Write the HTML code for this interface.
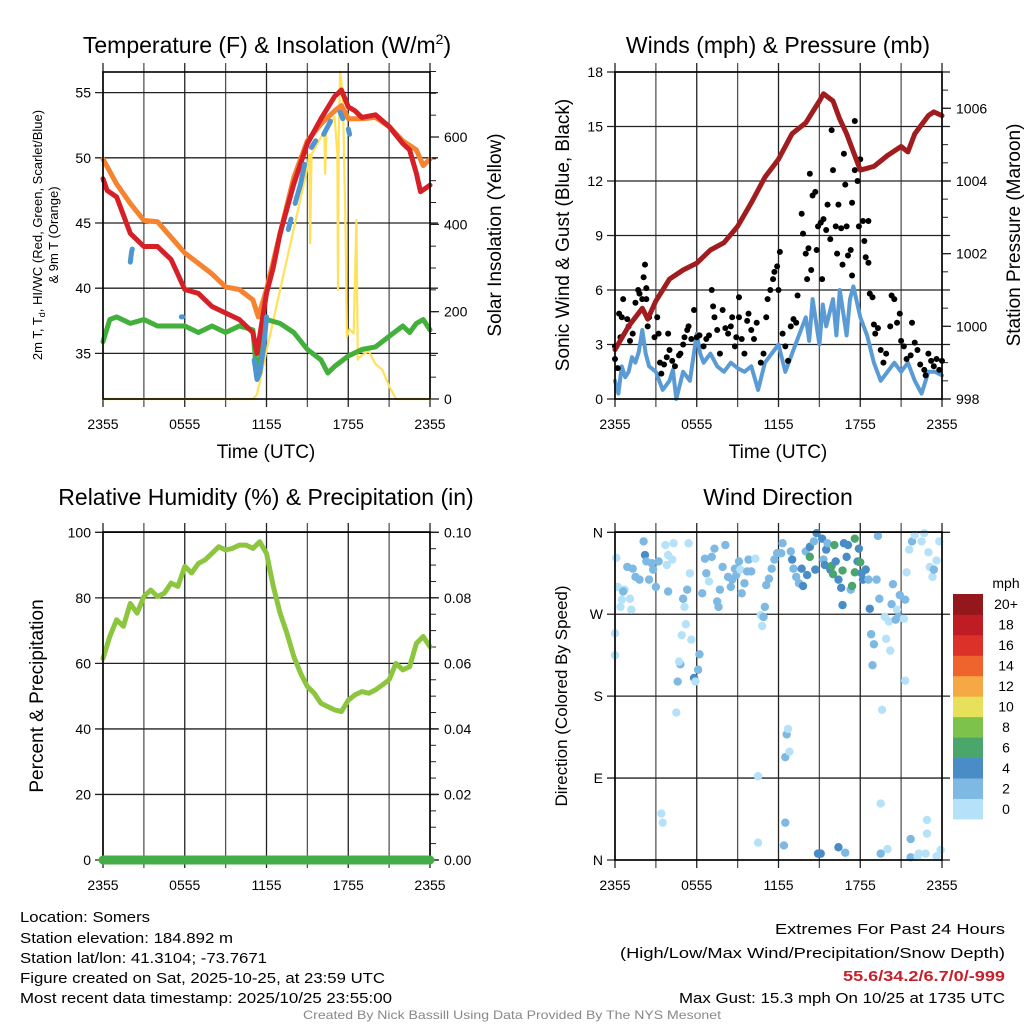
<!DOCTYPE html>
<html><head><meta charset="utf-8"><style>
html,body{margin:0;padding:0;background:#fff;}
svg{display:block;font-family:"Liberation Sans",Arial,sans-serif;}
</style></head><body>
<svg id="chart" width="1024" height="1024" viewBox="0 0 1024 1024" xmlns="http://www.w3.org/2000/svg">
<rect x="0" y="0" width="1024" height="1024" fill="#fff"/>
<text x="267" y="53" font-size="23" text-anchor="middle">Temperature (F) &amp; Insolation (W/m<tspan font-size="14" dy="-9">2</tspan><tspan dy="9">)</tspan></text>
<text x="778" y="53" font-size="23" text-anchor="middle">Winds (mph) &amp; Pressure (mb)</text>
<text x="266" y="505" font-size="23" text-anchor="middle">Relative Humidity (%) &amp; Precipitation (in)</text>
<text x="778" y="505" font-size="23" text-anchor="middle">Wind Direction</text>
<text x="266" y="458" font-size="19" text-anchor="middle">Time (UTC)</text>
<text x="778" y="458" font-size="19" text-anchor="middle">Time (UTC)</text>
<text transform="translate(42,235) rotate(-90)" font-size="13" text-anchor="middle">2m T, T<tspan font-size="9" dy="3">d</tspan><tspan dy="-3">, HI/WC (Red, Green, Scarlet/Blue)</tspan></text>
<text transform="translate(58,235) rotate(-90)" font-size="13" text-anchor="middle">&amp; 9m T (Orange)</text>
<text transform="translate(501,235) rotate(-90)" font-size="19" text-anchor="middle">Solar Insolation (Yellow)</text>
<text transform="translate(569,235) rotate(-90)" font-size="19" text-anchor="middle">Sonic Wind &amp; Gust (Blue, Black)</text>
<text transform="translate(1020,235) rotate(-90)" font-size="19" text-anchor="middle">Station Pressure (Maroon)</text>
<text transform="translate(43,696) rotate(-90)" font-size="19" text-anchor="middle">Percent &amp; Precipitation</text>
<text transform="translate(567,696) rotate(-90)" font-size="17" text-anchor="middle">Direction (Colored By Speed)</text>
<g font-size="14.5" fill="#000">
<text x="20" y="922" textLength="130" lengthAdjust="spacingAndGlyphs">Location: Somers</text>
<text x="20" y="943" textLength="213" lengthAdjust="spacingAndGlyphs">Station elevation: 184.892 m</text>
<text x="20" y="963" textLength="247" lengthAdjust="spacingAndGlyphs">Station lat/lon: 41.3104; -73.7671</text>
<text x="20" y="983" textLength="365" lengthAdjust="spacingAndGlyphs">Figure created on Sat, 2025-10-25, at 23:59 UTC</text>
<text x="20" y="1003" textLength="372" lengthAdjust="spacingAndGlyphs">Most recent data timestamp: 2025/10/25 23:55:00</text>
<text x="1005" y="934" text-anchor="end" textLength="230" lengthAdjust="spacingAndGlyphs">Extremes For Past 24 Hours</text>
<text x="1005" y="958" text-anchor="end" textLength="385" lengthAdjust="spacingAndGlyphs">(High/Low/Max Wind/Precipitation/Snow Depth)</text>
<text x="1005" y="981" text-anchor="end" fill="#c8202a" font-weight="bold" textLength="162" lengthAdjust="spacingAndGlyphs">55.6/34.2/6.7/0/-999</text>
<text x="1005" y="1003" text-anchor="end" textLength="326" lengthAdjust="spacingAndGlyphs">Max Gust: 15.3 mph On 10/25 at 1735 UTC</text>
</g>
<text x="512" y="1019" font-size="12" fill="#888" text-anchor="middle" textLength="418" lengthAdjust="spacingAndGlyphs">Created By Nick Bassill Using Data Provided By The NYS Mesonet</text>
<g id="plots"></g>
</svg>
<script>
// ---------- data ----------
const timeTickLabels = ["2355","0555","1155","1755","2355"];
const tempTicks = [35,40,45,50,55];
const solarTicks = [0,200,400,600];
const windTicks = [0,3,6,9,12,15,18];
const pressureTicks = [998,1000,1002,1004,1006];
const rhTicks = [0,20,40,60,80,100];
const precipTicks = ["0.00","0.02","0.04","0.06","0.08","0.10"];
const dirTickLabels = ["N","E","S","W","N"];
const speedBinLabels = ["0","2","4","6","8","10","12","14","16","18","20+"];
const speedBinColors = ["#b5e2f8","#7db9e3","#4a8dc6","#4ba66c","#7dc24a","#e6e05a","#f6a844","#ef632c","#dc3128","#bf1c24","#93171b"];

const tempTimes = [0,0.3,1,2,3,4,5,6,7,8,9,10,11,11.3,12,12.5,13,14,15,16,17,17.5,18,18.5,19,20,21,22,22.5,23,23.3,24];
const tempValues = [48.4,47.5,47.0,44.2,43.2,43.2,42.2,39.9,39.6,38.6,38.1,37.6,36.6,35.0,39.6,41.6,44.2,48.0,51.1,53.0,54.7,55.2,53.9,53.6,53.1,53.3,52.4,51.1,50.6,48.8,47.4,47.9];
const temp9mTimes = [0,1,2,3,4,5,6,7,8,9,10,11,11.4,12,13,14,15,16,17,17.5,18,19,20,21,22,23,23.5,24];
const temp9mValues = [49.9,48.0,46.5,45.2,45.1,43.9,42.7,41.9,41.1,40.1,39.9,39.1,37.8,39.9,44.2,48.5,51.3,52.6,53.6,54.0,53.0,53.0,53.1,52.4,51.3,50.6,49.4,49.9];
const dewTimes = [0,0.5,1,2,3,4,5,6,7,8,9,10,11,11.3,11.6,12,13,14,15,16,16.5,17,18,19,20,21,22,22.5,23,23.5,24];
const dewValues = [35.9,37.6,37.8,37.3,37.6,37.1,37.1,37.1,36.6,37.1,36.6,37.1,36.8,33.2,35.0,37.6,37.3,36.6,35.3,34.5,33.5,34.0,34.8,35.3,35.5,36.3,37.1,36.6,37.3,37.6,36.8];
const hiwcTimes = [2.0,2.1,2.15,null,5.75,5.85,null,11.1,11.3,11.5,11.8,12.0,null,13.6,13.8,null,14.1,14.5,14.8,null,15.3,15.6,null,16.2,16.7,null,17.4,17.6,null,18.0,18.1];
const hiwcValues = [42.0,42.8,43.0,null,37.8,37.8,null,34.5,33.0,33.5,35.5,37.8,null,44.5,45.3,null,46.5,48.0,49.5,null,50.8,51.3,null,51.8,52.8,null,53.5,53.0,null,52.2,51.8];
const solarTimes = [0,11.0,11.3,12,13,14,15,15.15,15.2,15.3,16,16.25,16.3,16.4,17,17.2,17.25,17.3,17.4,17.6,17.8,17.9,18.1,18.4,18.6,18.7,18.8,19.0,19.5,20,20.5,21,21.5,24];
const solarValues = [0,0,10,110,250,390,530,560,357,560,600,610,516,620,646,560,250,600,750,700,395,143,160,150,410,90,95,100,109,80,67,30,0,0];
const windTimes = [0,0.25,0.5,0.75,1,1.25,1.5,1.75,2,2.25,2.5,3,3.5,4,4.25,4.5,5,5.5,6,6.25,6.5,7,7.5,8,8.5,9,9.5,10,10.5,11,11.5,12,12.5,13,13.5,14,14.25,14.5,15,15.25,15.5,16,16.25,16.5,17,17.25,17.5,18,18.5,19,19.5,20,20.5,21,21.5,22,22.5,23,23.5,24];
const windValues = [1.0,0.3,1.8,1.2,1.5,2.3,2.0,2.6,3.8,2.5,1.8,1.5,0.5,1.0,1.6,0.0,1.5,1.0,3.6,2.5,2.0,2.5,1.8,1.5,2.0,1.7,1.5,1.8,0.5,2.0,2.5,3.0,1.5,2.5,3.5,4.5,3.2,5.5,3.0,5.2,4.0,5.5,3.5,6.0,3.5,5.5,6.2,4.5,3.5,2.0,1.0,1.5,2.0,1.5,2.0,1.0,0.3,1.5,1.5,1.3];
const pressureTimes = [0,1,2,2.4,3,4,5,6,7,8,9,10,11,12,13,14,15,15.3,16,16.5,17,17.5,18,18.5,19,20,21,21.5,22,23,23.4,24];
const pressureValues = [999.36,1000.0,1000.5,1000.2,1000.7,1001.3,1001.55,1001.74,1002.1,1002.3,1002.75,1003.4,1004.1,1004.6,1005.3,1005.6,1006.2,1006.4,1006.2,1005.7,1005.3,1004.8,1004.3,1004.35,1004.4,1004.7,1004.95,1004.8,1005.3,1005.8,1005.9,1005.8];
const gustTimes = [0,0,0.2,0.3,0.5,0.6,0.4,0.9,1.0,1.1,1.3,1.5,1.7,1.8,2.0,2.1,2.2,2.3,2.3,2.4,2.5,2.9,3.1,3.2,3.3,3.4,3.6,3.8,3.9,4.0,4.2,4.4,4.7,4.8,5.0,5.1,5.3,5.4,5.6,5.8,6.0,6.2,6.5,6.7,6.9,7.1,7.2,7.3,7.5,7.7,7.9,8.1,8.3,8.5,8.6,8.8,8.9,9.1,9.1,9.3,9.5,9.7,9.8,10.0,10.2,10.4,10.7,10.9,11.1,11.2,11.4,11.6,11.7,11.9,12.0,12.1,12.3,12.5,12.7,12.9,13.1,13.3,13.4,13.7,13.8,14.0,14.1,14.2,14.3,14.4,14.5,14.7,14.8,14.9,15.1,15.2,15.3,15.5,15.6,15.8,15.9,16.0,16.2,16.3,16.4,16.6,16.7,16.8,16.9,17.0,17.1,17.3,17.4,17.4,17.6,17.6,17.8,17.9,18.0,18.2,18.3,18.4,18.6,18.6,18.7,18.9,19.0,19.1,19.3,19.5,19.7,19.9,20.2,20.3,20.5,20.7,20.9,21.0,21.2,21.4,21.7,21.8,22.0,22.2,22.4,22.7,22.8,23.0,23.2,23.4,23.6,23.8,24.0];
const gustValues = [2.2,2.9,1.7,4.7,4.5,5.5,3.4,4.4,4.0,3.2,3.6,5.3,6.0,5.8,5.5,6.7,7.4,5.5,6.1,4.0,4.5,3.4,4.5,3.6,2.0,1.4,1.9,2.3,3.6,2.7,2.1,1.8,2.4,2.5,3.0,3.4,3.8,4.0,3.3,4.9,3.4,3.5,2.9,3.3,3.5,6.0,5.1,4.5,3.8,2.5,4.9,3.9,3.6,4.0,4.5,2.9,3.4,4.5,5.6,3.3,2.5,4.3,4.7,3.8,3.3,4.2,2.0,2.5,4.5,5.5,6.0,6.6,7.0,7.3,6.0,8.1,3.6,2.9,2.1,4.0,4.4,4.2,5.7,10.2,9.1,8.0,6.6,8.3,12.4,7.1,11.2,11.4,8.2,9.5,9.7,6.6,9.9,9.3,10.7,8.8,14.8,12.6,9.5,8.0,10.7,9.4,7.4,13.5,11.8,9.5,7.9,8.2,6.8,10.8,12.6,15.3,12.0,9.5,13.2,9.8,8.7,7.8,9.8,7.5,5.8,5.6,4.1,3.6,3.9,2.7,2.0,2.5,4.0,5.7,5.5,4.2,4.7,3.2,2.9,2.2,2.4,4.2,3.1,2.7,1.9,1.6,1.3,2.5,2.1,1.8,2.2,1.6,2.1];
const rhTimes = [0,0.5,1,1.5,2,2.5,3,3.5,4,4.5,5,5.5,6,6.5,7,7.5,8,8.5,9,9.5,10,10.5,11,11.5,12,12.5,13,13.5,14,14.5,15,15.5,16,16.5,17,17.5,18,18.5,19,19.5,20,20.5,21,21.5,22,22.5,23,23.5,24];
const rhValues = [61.5,68.2,73.3,71.3,78.3,75.3,80.4,82.4,80.4,81.4,84.5,83.5,89.6,87.6,90.5,91.6,93.6,95.6,94.6,95.1,96.1,96.1,95.1,97.1,93.6,83.5,75.3,69.2,62.1,57.0,52.9,50.9,47.8,46.8,45.8,45.3,48.8,50.4,51.4,50.9,51.9,53.4,55.0,60.0,58.0,59.0,66.1,68.2,65.1];
const precipTimes = [0,24];
const precipValues = [0,0];
const dirTimes = [0.1,0,0,0.2,0.4,0.5,0.9,0.7,1.1,1.2,0.6,1.3,1.5,1.8,2.1,2.2,2.3,2.5,2.7,2.8,3.0,3.2,3.4,3.5,3.7,3.8,3.9,3.9,4.3,4.2,4.5,4.6,4.8,4.7,4.9,5.0,5.1,5.2,5.3,5.5,5.4,5.6,5.8,5.9,6.1,6.2,6.4,6.6,6.7,6.9,7.1,7.3,7.5,7.6,7.7,7.9,8.1,8.3,8.5,8.6,8.8,8.9,9.1,9.2,9.3,9.5,9.7,9.8,10.0,10.3,10.5,10.5,10.7,10.8,10.9,11.0,11.1,11.3,11.5,11.7,11.9,12.3,12.4,12.5,12.5,12.6,12.7,12.8,12.2,12.9,13.0,13.1,13.3,13.5,13.7,13.8,14.0,14.1,14.3,14.3,14.6,14.7,14.8,14.9,15.1,15.2,15.3,15.4,15.5,15.6,15.8,15.9,16.0,16.1,16.2,16.4,16.4,16.6,16.7,16.7,16.8,16.9,17.0,17.1,17.3,17.4,17.6,17.6,17.8,17.9,18.0,18.1,18.2,18.4,18.6,18.7,18.8,19.0,18.9,19.2,19.3,19.4,19.5,19.5,19.6,19.8,19.9,20.0,20.1,20.2,20.3,20.4,20.6,20.7,20.8,20.9,21.2,21.3,21.3,21.4,21.6,21.7,21.7,21.8,22.0,22.2,22.3,22.5,22.7,22.8,22.9,22.9,23.0,23.1,23.3,23.4,23.6,23.6,23.8,23.9];
const dirValues = [332,225,249,300,278,286,322,297,287,275,295,320,311,308,350,335,328,308,326,319,300,328,51,41,346,324,295,335,348,330,162,196,215,218,247,287,278,259,297,315,348,242,200,196,209,226,293,331,315,306,333,342,284,278,297,322,346,311,300,308,320,313,328,319,293,304,317,330,317,331,19,92,269,257,267,278,302,309,320,330,337,348,16,41,113,138,144,119,337,339,330,320,311,304,320,301,339,313,333,344,350,319,359,7,7,353,330,324,341,348,319,323,314,346,328,308,14,299,280,318,348,8,333,346,297,301,316,353,328,342,327,315,308,319,308,276,248,237,214,308,356,287,62,7,165,267,243,12,262,230,281,303,264,275,267,291,265,197,286,316,341,23,3,350,357,4,7,350,359,7,29,44,338,322,311,319,329,4,350,11];
const dirSpeeds = [1,1,1,1,1,1,3,1,1,1,3,3,3,3,3,5,3,3,3,3,3,3,1,1,1,1,3,1,1,1,1,3,3,1,1,3,1,1,3,1,1,1,5,1,3,3,3,3,3,1,3,3,3,3,3,3,3,3,3,3,3,3,3,1,3,3,3,3,3,1,1,1,1,1,3,3,3,3,3,3,3,3,3,3,3,3,1,1,3,3,5,3,3,3,5,5,3,5,7,5,3,5,5,5,5,5,3,5,5,3,5,7,7,7,5,5,5,5,5,7,5,3,5,5,3,7,7,7,5,5,7,5,5,5,3,5,3,3,3,3,3,3,1,3,1,1,1,1,1,1,3,3,3,1,3,3,1,1,3,1,1,3,3,3,1,1,1,1,1,1,1,1,1,1,1,3,1,1,1,1];

// ---------- helpers ----------
const NS = "http://www.w3.org/2000/svg";
const root = document.getElementById("plots");
function mk(tag, attrs, parent) {
  const e = document.createElementNS(NS, tag);
  for (const k in attrs) e.setAttribute(k, attrs[k]);
  (parent || root).appendChild(e);
  return e;
}
function pathFrom(times, vals, xf, yf) {
  let d = "", pen = false;
  for (let i = 0; i < times.length; i++) {
    if (times[i] === null || vals[i] === null) { pen = false; continue; }
    d += (pen ? "L" : "M") + xf(times[i]).toFixed(1) + "," + yf(vals[i]).toFixed(1);
    pen = true;
  }
  return d;
}
function makeX(L, R) { return t => L + t / 24 * (R - L); }
function linScale(v0, v1, p0, p1) { return v => p0 + (v - v0) / (v1 - v0) * (p1 - p0); }

function drawFrame(L, R, T, B, name, g) {
  const xf = makeX(L, R);
  for (let k = 0; k <= 8; k++) {
    const x = xf(k * 3);
    const ln = mk("line", {x1: x, x2: x, y1: T - 9, y2: B + 8, stroke: k % 2 ? "#555" : "#222", "stroke-width": 1.3}, g);
    
    
  }
  timeTickLabels.forEach((lab, i) => {
    const t = mk("text", {x: xf(i * 6), y: B + 30, "font-size": 14, "text-anchor": "middle"}, g);
    t.textContent = lab;
    
    
  });
  return xf;
}
function hGrid(L, R, ys, labels, g, name, side) {
  ys.forEach((y, i) => {
    const ln = mk("line", {x1: L - 8, x2: R + 8, y1: y, y2: y, stroke: "#222", "stroke-width": 1.3}, g);
    
    
    const t = mk("text", {x: side === "right" ? R + 14 : L - 12, y: y + 5, "font-size": 14, "text-anchor": side === "right" ? "start" : "end"}, g);
    t.textContent = labels[i];
    
    
  });
}
function rightTicks(R, ys, labels, minorYs, g, name) {
  minorYs.forEach(y => {
    const ln = mk("line", {x1: R, x2: R + 6, y1: y, y2: y, stroke: "#222", "stroke-width": 1}, g);
    
    
  });
  ys.forEach((y, i) => {
    const ln = mk("line", {x1: R, x2: R + 9, y1: y, y2: y, stroke: "#222", "stroke-width": 1.3}, g);
    
    
    const t = mk("text", {x: R + 14, y: y + 5, "font-size": 14}, g);
    t.textContent = labels[i];
    
    
  });
}
function box(L, R, T, B, g, name) {
  const r = mk("rect", {x: L, y: T, width: R - L, height: B - T, fill: "none", stroke: "#000", "stroke-width": 1.6}, g);
  
  
}
function line(d, color, w, g, nm) {
  const p = mk("path", {d: d, fill: "none", stroke: color, "stroke-width": w, "stroke-linejoin": "round", "stroke-linecap": "round"}, g);
  
  
  return p;
}

// ---------- Panel 1: temperature ----------
(function () {
  const L = 103, R = 430, T = 72, B = 399;
  const g = mk("g", {});
  
  
  const xf = drawFrame(L, R, T, B, "temperature", g);
  const yT = linScale(35, 55, 353.4, 92.6);
  const yS = linScale(0, 600, 399, 137);
  hGrid(L, R, tempTicks.map(yT), tempTicks, g, "temperature-y");
  const minors = []; for (let v = 0; v <= 750; v += 50) minors.push(yS(v));
  rightTicks(R, solarTicks.map(yS), solarTicks, minors, g, "solar-y");
  line(pathFrom(solarTimes, solarValues, xf, yS), "#ffe15a", 2.2, g, "solar-insolation-line");
  line(pathFrom(dewTimes, dewValues, xf, yT), "#44b03c", 5, g, "dewpoint-line");
  line(pathFrom(temp9mTimes, temp9mValues, xf, yT), "#f5832f", 5, g, "temperature-9m-line");
  line(pathFrom(tempTimes, tempValues, xf, yT), "#d62027", 5, g, "temperature-2m-line");
  line(pathFrom(hiwcTimes, hiwcValues, xf, yT), "#4f96d0", 5, g, "heat-index-wind-chill-line");
  box(L, R, T, B, g, "temperature");
})();

// ---------- Panel 2: winds ----------
(function () {
  const L = 615, R = 942, T = 72, B = 399;
  const g = mk("g", {});
  
  
  const xf = drawFrame(L, R, T, B, "winds", g);
  const yW = linScale(0, 18, 399, 72);
  const yP = linScale(998, 1006, 399, 108.3);
  hGrid(L, R, windTicks.map(yW), windTicks, g, "wind-y");
  const minors = []; for (let v = 998; v <= 1007; v += 0.5) minors.push(yP(v));
  rightTicks(R, pressureTicks.map(yP), pressureTicks, minors, g, "pressure-y");
  line(pathFrom(windTimes, windValues, xf, yW), "#5b9bd5", 4, g, "sonic-wind-line");
  gustTimes.forEach((t, i) => {
    const c = mk("circle", {cx: xf(t), cy: yW(gustValues[i]), r: 3, fill: "#000"}, g);
    
    
  });
  line(pathFrom(pressureTimes, pressureValues, xf, yP), "#a01c1e", 5, g, "pressure-line");
  box(L, R, T, B, g, "winds");
})();

// ---------- Panel 3: humidity ----------
(function () {
  const L = 103, R = 430, T = 532, B = 860;
  const g = mk("g", {});
  
  
  const xf = drawFrame(L, R, T, B, "humidity", g);
  const yH = linScale(0, 100, 860, 532.3);
  const yPr = linScale(0, 0.1, 860, 532.3);
  hGrid(L, R, rhTicks.map(yH), rhTicks, g, "humidity-y");
  const minors = []; for (let v = 0; v <= 0.1001; v += 0.005) minors.push(yPr(v));
  rightTicks(R, precipTicks.map(v => yPr(+v)), precipTicks, minors, g, "precip-y");
  line(pathFrom(rhTimes, rhValues, xf, yH), "#8cc63f", 5, g, "relative-humidity-line");
  box(L, R, T, B, g, "humidity");
  line(pathFrom(precipTimes, precipValues, xf, yPr), "#45ad45", 9, g, "precipitation-line");
})();

// ---------- Panel 4: wind direction ----------
(function () {
  const L = 615, R = 942, T = 532, B = 860;
  const g = mk("g", {});
  
  
  const xf = drawFrame(L, R, T, B, "direction", g);
  const yD = linScale(0, 360, 860, 532.3);
  hGrid(L, R, [0, 90, 180, 270, 360].map(yD), dirTickLabels, g, "direction-y");
  dirTimes.forEach((t, i) => {
    const bin = Math.min(10, Math.floor(dirSpeeds[i] / 2));
    const c = mk("circle", {cx: xf(t), cy: yD(dirValues[i]), r: 4.2, fill: speedBinColors[bin]}, g);
    
    
  });
  box(L, R, T, B, g, "direction");
  // colorbar: 11 cells
  const cbX = 953, cbW = 30, cbB = 819, n = speedBinColors.length, cellH = (819 - 594) / n;
  const ttl = mk("text", {x: 1006, y: 588, "font-size": 14, "text-anchor": "middle"}, g);
  ttl.textContent = "mph";
  
  
  for (let i = 0; i < n; i++) {
    const r = mk("rect", {x: cbX, y: cbB - (i + 1) * cellH, width: cbW, height: cellH + 0.4, fill: speedBinColors[i]}, g);
    
    
    const t = mk("text", {x: 1006, y: cbB - (i + 0.5) * cellH + 5, "font-size": 14, "text-anchor": "middle"}, g);
    t.textContent = speedBinLabels[i];
    
    
  }
})();
</script>
</body></html>
